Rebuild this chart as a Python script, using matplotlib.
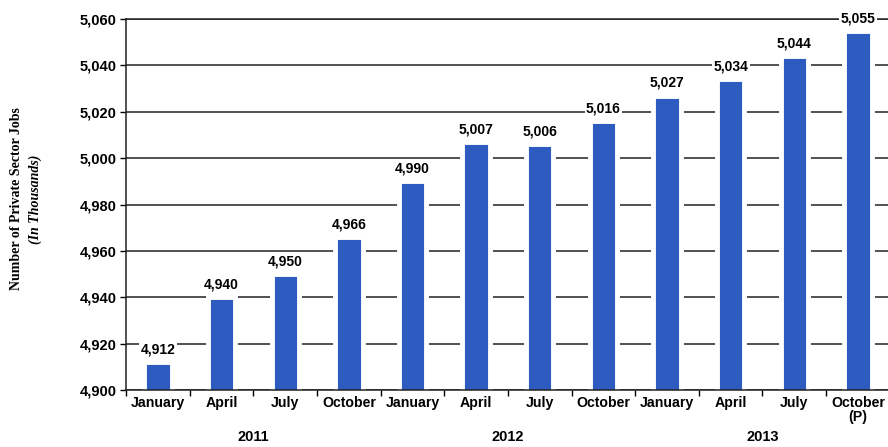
import numpy as np
import matplotlib.pyplot as plt
from matplotlib.transforms import blended_transform_factory

# private sector jobs by quarter, in thousands
months = ['January', 'April', 'July', 'October',
          'January', 'April', 'July', 'October',
          'January', 'April', 'July', 'October\n(P)']
jobs = [4912, 4940, 4950, 4966, 4990, 5007, 5006, 5016, 5027, 5034, 5044, 5055]
years = ['2011', '2012', '2013']

bar_color = '#2e5bbf'
sans = ['Liberation Sans', 'DejaVu Sans']
serif = ['Liberation Serif', 'DejaVu Serif']

fig = plt.figure(figsize=(8.88, 4.47), dpi=100)
ax = fig.add_axes([0.142, 0.1275, 0.860, 0.83])

x = np.arange(len(jobs))
# white edge leaves a small gap between the bars and the grid lines
ax.bar(x, jobs, width=0.43, color=bar_color, edgecolor='white', linewidth=3.5, zorder=2)

ax.set_xlim(-0.5, len(jobs) - 0.5)
ax.set_ylim(4900, 5060)
ax.set_yticks(np.arange(4900, 5061, 20))
ax.set_yticklabels([f'{v:,}' for v in range(4900, 5061, 20)],
                   family=sans, fontweight='bold', fontsize=10.5)
ax.yaxis.grid(True, color='#222222', linewidth=1.1, zorder=1)
ax.set_axisbelow(True)

# ticks between categories, labels in the middle
ax.set_xticks(np.arange(-0.5, len(jobs), 1.0))
ax.set_xticklabels([])
ax.set_xticks(x, minor=True)
ax.set_xticklabels(months, minor=True, family=sans, fontweight='bold', fontsize=10.2,
                   linespacing=1.0)
ax.tick_params(axis='x', which='major', length=4, width=1)
ax.tick_params(axis='x', which='minor', length=0, pad=4)
ax.tick_params(axis='y', length=4, width=1, pad=3)

for side in ['top', 'left', 'bottom']:
    ax.spines[side].set_linewidth(1.1)
    ax.spines[side].set_color('#222222')
ax.spines['right'].set_visible(False)

for xi, v in zip(x, jobs):
    ax.annotate(f'{v:,}', (xi, v), xytext=(0, 4), textcoords='offset points',
                ha='center', va='bottom', family=sans, fontweight='bold', fontsize=10,
                bbox=dict(boxstyle='square,pad=0.1', fc='white', ec='none'), zorder=3)

trans = blended_transform_factory(ax.transData, ax.transAxes)
for i, yr in enumerate(years):
    ax.text(i * 4 + 1.5, -0.127, yr, transform=trans, ha='center', va='center',
            family=sans, fontweight='bold', fontsize=10.5)

fig.text(0.019, 0.555, 'Number of Private Sector Jobs', rotation=90, ha='center',
         va='center', family=serif, fontweight='bold', fontsize=10)
fig.text(0.040, 0.555, '(In Thousands)', rotation=90, ha='center', va='center',
         family=serif, fontweight='bold', style='italic', fontsize=10)

fig.savefig('out.png', dpi=100)
